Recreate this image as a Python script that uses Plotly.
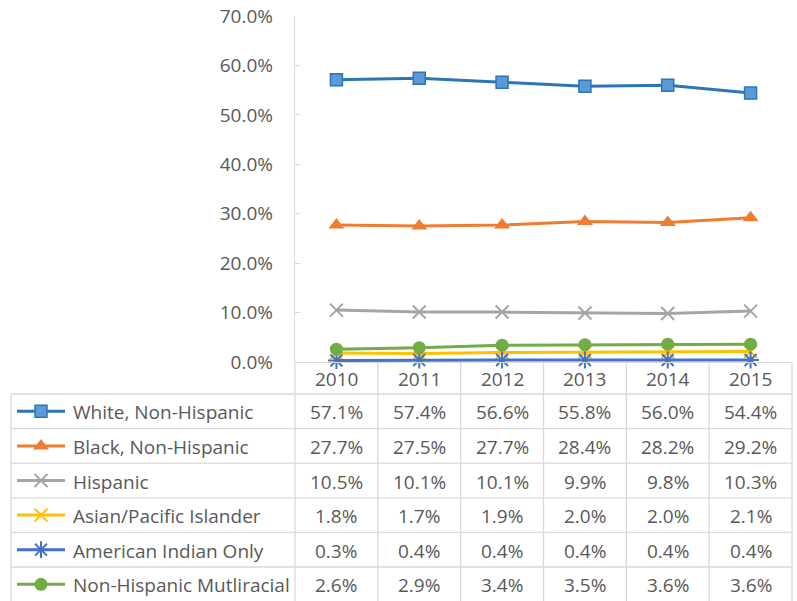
import plotly.graph_objects as go

years = ["2010", "2011", "2012", "2013", "2014", "2015"]
series_names = ["White, Non-Hispanic", "Black, Non-Hispanic", "Hispanic",
                "Asian/Pacific Islander", "American Indian Only", "Non-Hispanic Mutliracial"]
white = [57.1, 57.4, 56.6, 55.8, 56.0, 54.4]
black = [27.7, 27.5, 27.7, 28.4, 28.2, 29.2]
hispanic = [10.5, 10.1, 10.1, 9.9, 9.8, 10.3]
asian = [1.8, 1.7, 1.9, 2.0, 2.0, 2.1]
amind = [0.3, 0.4, 0.4, 0.4, 0.4, 0.4]
multi = [2.6, 2.9, 3.4, 3.5, 3.6, 3.6]
y_ticks = [0, 10, 20, 30, 40, 50, 60, 70]

W, H = 797, 601
FONT = "Open Sans"
FS = 19
TXT = "#595959"
GRID = "#d9d9d9"

styles = [
    dict(line="#2e75b6", symbol="square", fill="#5b9bd5", size=12, mline="#2e75b6", mw=1.5),
    dict(line="#ed7d31", symbol="triangle-up", fill="#ed7d31", size=14, mline="#ed7d31", mw=0),
    dict(line="#a5a5a5", symbol="x-thin-open", fill="#a5a5a5", size=13, mline="#a5a5a5", mw=2),
    dict(line="#ffc000", symbol="x-thin-open", fill="#ffc000", size=13, mline="#ffc000", mw=2),
    dict(line="#4472c4", symbol="asterisk-open", fill="#4472c4", size=14, mline="#4472c4", mw=2),
    dict(line="#70ad47", symbol="circle", fill="#70ad47", size=13, mline="#70ad47", mw=0),
]
data = [white, black, hispanic, asian, amind, multi]

# layout geometry (pixels)
PX_L, PX_R = 295, 792
PY_TOP, PY_ZERO = 16, 362
HEADER_BOTTOM = 394
ROW_H = 34.6
TABLE_LEFT = 11

def fx(x):
    return x / W

def fy(y):
    return 1 - y / H

fig = go.Figure()
xs = list(range(len(years)))
for name, vals, st in zip(series_names, data, styles):
    fig.add_trace(go.Scatter(
        x=xs, y=vals, mode="lines+markers", name=name,
        line=dict(color=st["line"], width=3),
        marker=dict(symbol=st["symbol"], size=st["size"], color=st["fill"],
                    line=dict(color=st["mline"], width=st["mw"])),
        cliponaxis=False, showlegend=False, xaxis="x", yaxis="y"))

shapes = []
annotations = []
ncol = len(years)
colw = (PX_R - PX_L) / ncol
nrow = len(series_names)
bottom = HEADER_BOTTOM + ROW_H * nrow

for i in range(ncol + 1):
    x = PX_L + colw * i
    shapes.append(dict(type="line", xref="paper", yref="paper",
                       x0=fx(x), x1=fx(x), y0=fy(PY_ZERO), y1=fy(bottom),
                       line=dict(color=GRID, width=1.3)))
shapes.append(dict(type="line", xref="paper", yref="paper",
                   x0=fx(TABLE_LEFT), x1=fx(TABLE_LEFT), y0=fy(HEADER_BOTTOM), y1=fy(bottom),
                   line=dict(color=GRID, width=1.3)))
for r in range(nrow + 1):
    y = HEADER_BOTTOM + ROW_H * r
    shapes.append(dict(type="line", xref="paper", yref="paper",
                       x0=fx(TABLE_LEFT), x1=fx(PX_R), y0=fy(y), y1=fy(y),
                       line=dict(color=GRID, width=1.3)))

for i, yr in enumerate(years):
    annotations.append(dict(xref="paper", yref="paper", x=fx(PX_L + colw * (i + 0.5)),
                            y=fy((PY_ZERO + HEADER_BOTTOM) / 2 + 1), text=yr, showarrow=False,
                            xanchor="center", yanchor="middle",
                            font=dict(family=FONT, size=FS, color=TXT)))

for r, (name, vals, st) in enumerate(zip(series_names, data, styles)):
    yc = HEADER_BOTTOM + ROW_H * (r + 0.5) + 1
    annotations.append(dict(xref="paper", yref="paper", x=fx(71), y=fy(yc), text=name,
                            showarrow=False, xanchor="left", yanchor="middle",
                            font=dict(family=FONT, size=FS, color=TXT)))
    for i, v in enumerate(vals):
        annotations.append(dict(xref="paper", yref="paper", x=fx(PX_L + colw * (i + 0.5)),
                                y=fy(yc), text=f"{v:.1f}%", showarrow=False,
                                xanchor="center", yanchor="middle",
                                font=dict(family=FONT, size=FS, color=TXT)))
    ym = HEADER_BOTTOM + ROW_H * (r + 0.5)
    fig.add_trace(go.Scatter(x=[17, 65], y=[ym, ym], mode="lines",
                             line=dict(color=st["line"], width=3),
                             xaxis="x2", yaxis="y2", showlegend=False, hoverinfo="skip"))
    fig.add_trace(go.Scatter(x=[41], y=[ym], mode="markers",
                             marker=dict(symbol=st["symbol"], size=st["size"], color=st["fill"],
                                         line=dict(color=st["mline"], width=st["mw"])),
                             xaxis="x2", yaxis="y2", showlegend=False, hoverinfo="skip",
                             cliponaxis=False))

fig.update_layout(
    width=W, height=H, autosize=False,
    margin=dict(l=0, r=0, t=0, b=0, pad=0, autoexpand=False),
    paper_bgcolor="white", plot_bgcolor="rgba(0,0,0,0)",
    font=dict(family=FONT, size=FS, color=TXT),
    xaxis=dict(domain=[fx(PX_L), fx(PX_R)], range=[-0.5, ncol - 0.5], automargin=False,
               showticklabels=False, showgrid=False, zeroline=False,
               showline=True, linecolor=GRID, linewidth=1.3, ticks="", fixedrange=True),
    yaxis=dict(domain=[fy(PY_ZERO), fy(PY_TOP)], range=[0, 70], tickvals=y_ticks,
               ticktext=[f"{t:.1f}%" for t in y_ticks], automargin=False,
               showgrid=False, zeroline=False, showline=True, linecolor=GRID, linewidth=1.3,
               ticks="inside", ticklen=5, tickcolor=GRID, tickwidth=1.3,
               ticklabelstandoff=17,
               tickfont=dict(family=FONT, size=FS, color=TXT), fixedrange=True),
    xaxis2=dict(domain=[0, 1], range=[0, W], visible=False, anchor="y2", fixedrange=True,
                automargin=False),
    yaxis2=dict(domain=[0, 1], range=[H, 0], visible=False, anchor="x2", fixedrange=True,
                automargin=False),
    shapes=shapes, annotations=annotations,
)

fig.write_html("out.html", config={"displayModeBar": False},
               post_script="document.body.style.margin='0';document.body.style.overflow='hidden';")
